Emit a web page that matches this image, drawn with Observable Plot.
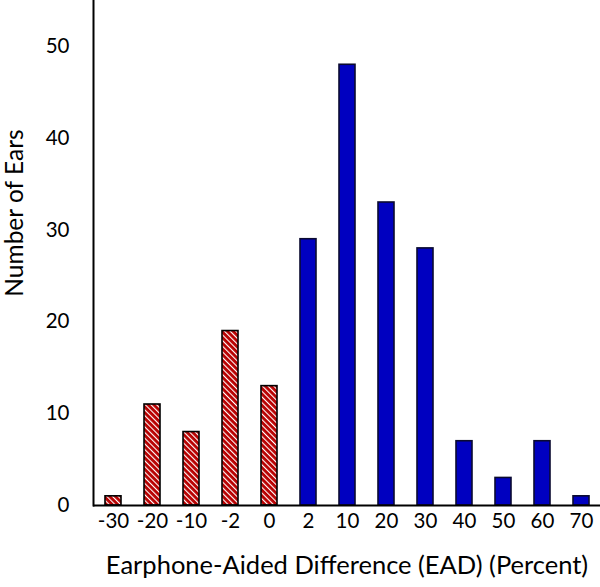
<!DOCTYPE html>
<html>
<head>
<meta charset="utf-8">
<script src="https://cdn.jsdelivr.net/npm/d3@7"></script>
<script src="https://cdn.jsdelivr.net/npm/@observablehq/plot@0.6"></script>
<style>
  html, body { margin: 0; padding: 0; background: #fff; }
  #chart svg { display: block; }
</style>
</head>
<body>
<div id="chart"></div>
<script>
// Data
const categories = ["-30", "-20", "-10", "-2", "0", "2", "10", "20", "30", "40", "50", "60", "70"];
const counts     = [1, 11, 8, 19, 13, 29, 48, 33, 28, 7, 3, 7, 1];
const groups     = ["neg", "neg", "neg", "neg", "neg", "pos", "pos", "pos", "pos", "pos", "pos", "pos", "pos"];
const yTicks     = [0, 10, 20, 30, 40, 50];
const xTitle     = "Earphone-Aided Difference (EAD) (Percent)";
const yTitle     = "Number of Ears";

const data = categories.map((c, i) => ({ category: c, count: counts[i], group: groups[i] }));

const chart = Plot.plot({
  width: 600,
  height: 587,
  marginLeft: 93,
  marginRight: 0,
  marginTop: 0,
  marginBottom: 82,
  style: { fontFamily: "Lato, 'Open Sans', sans-serif", fontSize: "20px", color: "#000", background: "#fff" },
  x: { domain: categories, paddingInner: 0.59, paddingOuter: 0.295 },
  y: { domain: [0, 55] },
  marks: [
    Plot.barY(data.filter(d => d.group === "neg"), {
      x: "category", y: "count", fill: "url(#hatch)", stroke: "#000", strokeWidth: 1.6
    }),
    Plot.barY(data.filter(d => d.group === "pos"), {
      x: "category", y: "count", fill: "#0000c0", stroke: "#0a0a30", strokeWidth: 1.6
    }),
    Plot.axisX({ tickSize: 0, tickPadding: 8, label: null, fontSize: 20.5 }),
    Plot.axisY({ ticks: yTicks, tickSize: 0, tickPadding: 24, label: null, fontSize: 20.5 }),
    Plot.ruleY([0], { stroke: "#000", strokeWidth: 2 }),
    Plot.frame({ anchor: "left", stroke: "#000", strokeWidth: 2 }),
    Plot.text([xTitle], { frameAnchor: "bottom", dy: 68, fontSize: 25.5, fill: "#000" }),
    Plot.text([yTitle], { frameAnchor: "left", textAnchor: "middle", dx: -78, dy: -40, rotate: -90, fontSize: 24.5, fill: "#000" })
  ]
});

// hatch pattern: dark red with thin white diagonal stripes
const ns = "http://www.w3.org/2000/svg";
const defs = document.createElementNS(ns, "defs");
defs.innerHTML = `
  <pattern id="hatch" patternUnits="userSpaceOnUse" width="4" height="4" patternTransform="rotate(-45)">
    <rect width="4" height="4" fill="#b80000"></rect>
    <rect x="0" y="0" width="1.1" height="4" fill="#ffffff"></rect>
  </pattern>`;
chart.insertBefore(defs, chart.firstChild);

document.getElementById("chart").appendChild(chart);
</script>
</body>
</html>
